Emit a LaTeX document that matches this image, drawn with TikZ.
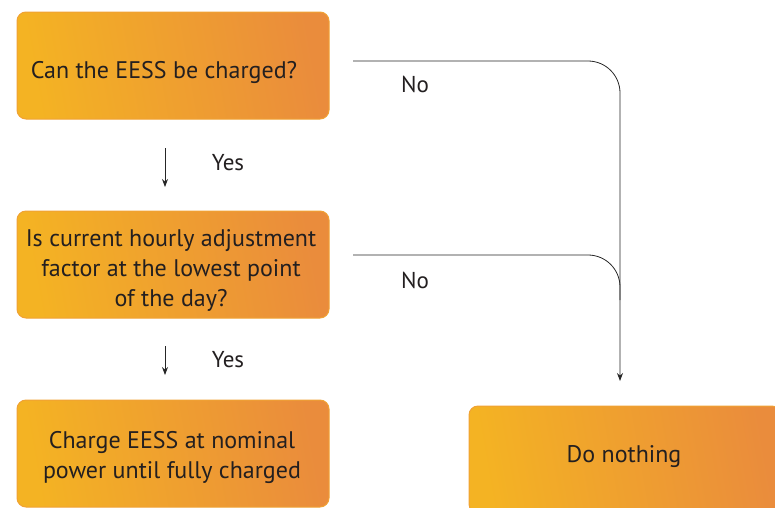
\documentclass[tikz,border=0pt]{standalone}
\usepackage{fontspec}
\setmainfont{PT Sans}
\usetikzlibrary{arrows.meta}
\definecolor{boxL}{HTML}{F4B323}
\definecolor{boxM}{HTML}{F0A932}
\definecolor{boxR}{HTML}{EA8C3C}
\definecolor{boxEdge}{HTML}{F0A234}
\definecolor{txt}{HTML}{231F20}
\begin{document}
\begin{tikzpicture}[x=1pt,y=-1pt,
  box/.style={draw=boxEdge,line width=1pt,rounded corners=9pt,
    left color=boxL,middle color=boxM,right color=boxR,shading angle=100,
    minimum width=312pt,minimum height=107pt},
  btxt/.style={align=center,font=\fontsize{24}{30}\selectfont,text=txt,inner sep=0pt},
  conn/.style={draw=black!85,line width=0.8pt},
  lab/.style={font=\fontsize{23}{26}\selectfont,text=txt,inner sep=0pt}]
\useasboundingbox (0,0) rectangle (775,507);
\begin{scope}
\clip (0,0) rectangle (775,507);
\node[box] (b1) at (173,65.5) {};
\node[box] (b2) at (173,264.5) {};
\node[box] (b3) at (173,453.5) {};
\node[box] (b4) at (625,459.5) {};
\end{scope}
\node[btxt] (t1) at (164,72) {Can the EESS be charged?};
\node[btxt] (t2) at (171,270) {Is current hourly adjustment\\factor at the lowest point\\of the day?};
\node[btxt] (t3) at (172,457) {Charge EESS at nominal\\power until fully charged};
\node[btxt] (t4) at (624,457) {Do nothing};
% yes arrows
\coordinate (y1s) at (165,148);
\coordinate (y1e) at (165,187);
\coordinate (y2s) at (165,346);
\coordinate (y2e) at (165,375);
\draw[conn,-{Stealth[length=8pt,width=6pt]}] (y1s) -- (y1e);
\draw[conn,-{Stealth[length=8pt,width=6pt]}] (y2s) -- (y2e);
\node[lab] (yes1) at (228,163) {Yes};
\node[lab] (yes2) at (228,360) {Yes};
% no lines
\coordinate (n1) at (353,61);
\coordinate (n1e) at (620,300);
\coordinate (n2) at (353,255);
\coordinate (n2e) at (620,381);
\draw[conn,rounded corners=32pt] (n1) -| (n1e);
\draw[conn,rounded corners=32pt,-{Stealth[length=8pt,width=6pt]}] (n2) -| (n2e);
\node[lab] (no1) at (415,84) {No};
\node[lab] (no2) at (415,280) {No};
\end{tikzpicture}
\end{document}
